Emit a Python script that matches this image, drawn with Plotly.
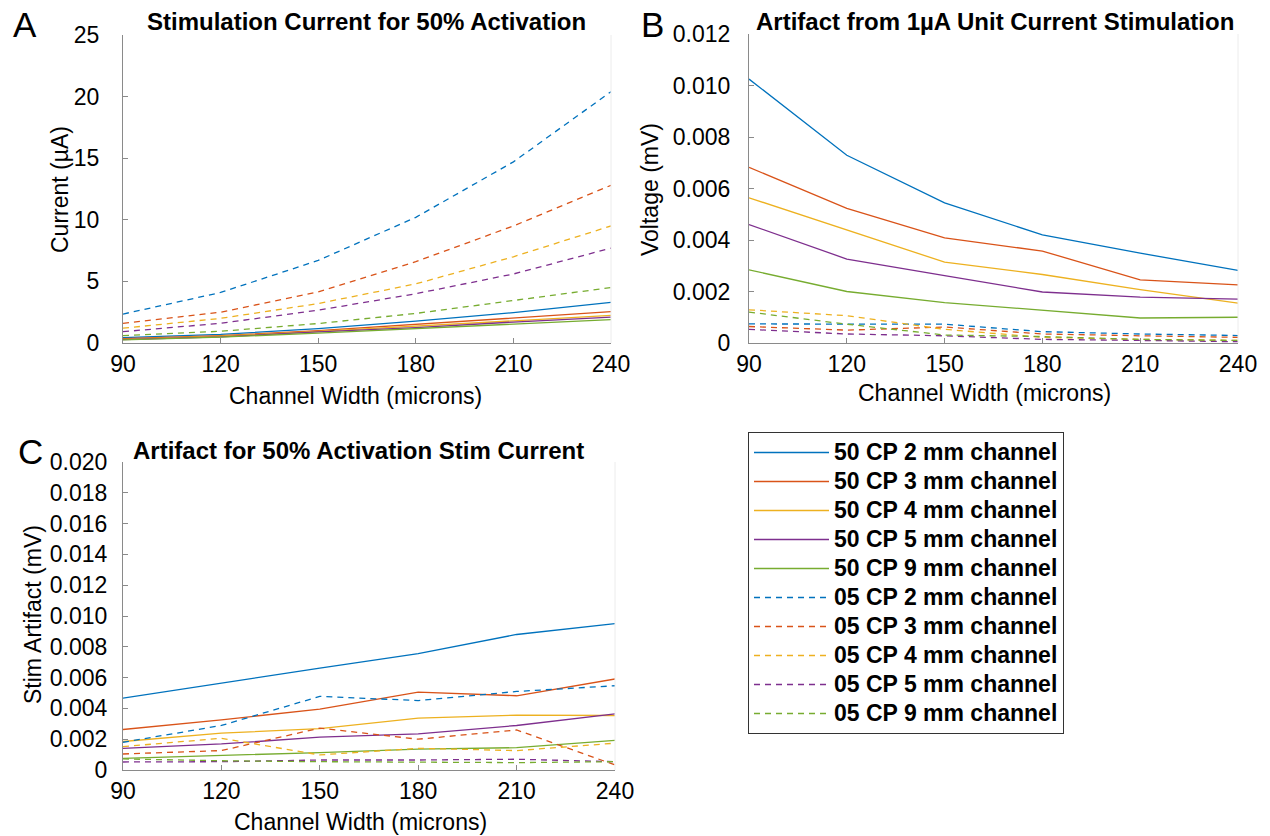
import plotly.graph_objects as go

W, H = 1270, 836
width_um = [90, 120, 150, 180, 210, 240]
names_50 = ["50 CP 2 mm channel", "50 CP 3 mm channel", "50 CP 4 mm channel", "50 CP 5 mm channel", "50 CP 9 mm channel"]
names_05 = ["05 CP 2 mm channel", "05 CP 3 mm channel", "05 CP 4 mm channel", "05 CP 5 mm channel", "05 CP 9 mm channel"]
colors = ["#0072BD", "#D95319", "#EDB120", "#7E2F8E", "#77AC30"]

# Panel A: stimulation current (uA)
a_50 = [
    [0.44, 0.70, 1.17, 1.77, 2.47, 3.3],
    [0.35, 0.60, 1.00, 1.50, 2.00, 2.54],
    [0.30, 0.55, 0.95, 1.35, 1.80, 2.25],
    [0.28, 0.50, 0.90, 1.25, 1.70, 2.10],
    [0.25, 0.48, 0.80, 1.15, 1.50, 1.90],
]
a_05 = [
    [2.35, 4.1, 6.7, 10.2, 14.7, 20.4],
    [1.6, 2.5, 4.15, 6.6, 9.5, 12.8],
    [1.2, 2.0, 3.2, 4.8, 7.0, 9.5],
    [0.92, 1.6, 2.66, 4.0, 5.6, 7.7],
    [0.6, 0.95, 1.58, 2.4, 3.45, 4.5],
]
# Panel B: artifact from 1 uA (mV)
b_50 = [
    [0.01025, 0.00729, 0.00544, 0.00420, 0.00349, 0.00282],
    [0.00682, 0.00523, 0.00408, 0.00357, 0.00245, 0.00226],
    [0.00564, 0.00440, 0.00314, 0.00266, 0.00207, 0.00155],
    [0.00460, 0.00326, 0.00262, 0.00198, 0.00178, 0.00170],
    [0.00284, 0.00200, 0.00157, 0.00126, 0.00097, 0.00100],
]
b_05 = [
    [0.00074, 0.00073, 0.00073, 0.00044, 0.00035, 0.00029],
    [0.00064, 0.00050, 0.00062, 0.00035, 0.00028, 0.00022],
    [0.00129, 0.00106, 0.00053, 0.00022, 0.00014, 0.00010],
    [0.00053, 0.00035, 0.00028, 0.00014, 0.00010, 0.00005],
    [0.00120, 0.00073, 0.00031, 0.00025, 0.00014, 0.00010],
]
# Panel C: stim artifact at 50% activation current (mV)
c_50 = [
    [0.00467, 0.00565, 0.00662, 0.00756, 0.00880, 0.00950],
    [0.00263, 0.00326, 0.00395, 0.00506, 0.00482, 0.00591],
    [0.00185, 0.00239, 0.00269, 0.00337, 0.00356, 0.00354],
    [0.00141, 0.00169, 0.00213, 0.00235, 0.00289, 0.00365],
    [0.00076, 0.00093, 0.00113, 0.00135, 0.00145, 0.00193],
]
c_05 = [
    [0.00180, 0.00289, 0.00478, 0.00451, 0.00510, 0.00547],
    [0.00104, 0.00126, 0.00272, 0.00200, 0.00260, 0.00033],
    [0.00152, 0.00206, 0.00098, 0.00141, 0.00126, 0.00174],
    [0.00052, 0.00054, 0.00065, 0.00065, 0.00070, 0.00054],
    [0.00072, 0.00060, 0.00054, 0.00050, 0.00048, 0.00054],
]

a_ticks = [0, 5, 10, 15, 20, 25]
b_ticks = [0, 0.002, 0.004, 0.006, 0.008, 0.010, 0.012]
b_ticktext = ["0", "0.002", "0.004", "0.006", "0.008", "0.010", "0.012"]
c_ticks = [0, 0.002, 0.004, 0.006, 0.008, 0.010, 0.012, 0.014, 0.016, 0.018, 0.020]
c_ticktext = ["0"] + ["%.3f" % v for v in c_ticks[1:]]
x_ticks = [90, 120, 150, 180, 210, 240]

FONT = "Liberation Sans, Arial, sans-serif"
fig = go.Figure()

def px_x(x0, x1):
    return [x0 / W, x1 / W]

def px_y(top, bottom):
    return [1 - bottom / H, 1 - top / H]

def leg(name):
    return "<span style='font-size:23px'>%s</span>" % name

panels = [
    ("x", "y", a_50, a_05, True),
    ("x2", "y2", b_50, b_05, False),
    ("x3", "y3", c_50, c_05, False),
]
for xa, ya, s50, s05, show in panels:
    for i in range(5):
        fig.add_trace(go.Scatter(x=width_um, y=s50[i], mode="lines", name=leg(names_50[i]),
                                 line=dict(color=colors[i], width=1.3), xaxis=xa, yaxis=ya,
                                 showlegend=show, legendrank=i))
for xa, ya, s50, s05, show in panels:
    for i in range(5):
        fig.add_trace(go.Scatter(x=width_um, y=s05[i], mode="lines", name=leg(names_05[i]),
                                 line=dict(color=colors[i], width=1.3, dash="6px,5px"), xaxis=xa, yaxis=ya,
                                 showlegend=show, legendrank=10 + i))

axcommon = dict(showgrid=False, zeroline=False, showline=True, linecolor="#8a8a8a", linewidth=1,
                ticks="inside", ticklen=5, tickcolor="#8a8a8a", automargin=False,
                tickfont=dict(family=FONT, size=23, color="black"))

dom = {
    "A": (px_x(123, 611), px_y(35, 343)),
    "B": (px_x(749, 1238), px_y(34, 343)),
    "C": (px_x(123, 615), px_y(462, 770)),
}
fig.update_layout(
    xaxis=dict(domain=dom["A"][0], anchor="y", range=[90, 240], tickvals=x_ticks, **axcommon),
    yaxis=dict(domain=dom["A"][1], anchor="x", range=[0, 25], tickvals=a_ticks, ticklabelstandoff=18, **axcommon),
    xaxis2=dict(domain=dom["B"][0], anchor="y2", range=[90, 240], tickvals=x_ticks, **axcommon),
    yaxis2=dict(domain=dom["B"][1], anchor="x2", range=[0, 0.012], tickvals=b_ticks, ticktext=b_ticktext,
                ticklabelstandoff=13, **axcommon),
    xaxis3=dict(domain=dom["C"][0], anchor="y3", range=[90, 240], tickvals=x_ticks, **axcommon),
    yaxis3=dict(domain=dom["C"][1], anchor="x3", range=[0, 0.020], tickvals=c_ticks, ticktext=c_ticktext,
                ticklabelstandoff=10, **axcommon),
)

# faint right edges of the plot boxes
for (xd, yd) in dom.values():
    fig.add_shape(type="line", xref="paper", yref="paper", x0=xd[1], x1=xd[1], y0=yd[0], y1=yd[1],
                  line=dict(color="#ececec", width=1))

def ann(text, x, y, size=23, bold=False, angle=0):
    fig.add_annotation(text=("<b>%s</b>" % text) if bold else text, x=x / W, y=1 - y / H,
                       xref="paper", yref="paper", showarrow=False, textangle=angle,
                       xanchor="center", yanchor="middle",
                       font=dict(family=FONT, size=size, color="black"))

ann("Stimulation Current for 50% Activation", 366, 22, size=24, bold=True)
ann("Artifact from 1µA Unit Current Stimulation", 995, 22, size=24, bold=True)
ann("Artifact for 50% Activation Stim Current", 359, 450, size=24, bold=True)
ann("A", 25, 24, size=35)
ann("B", 652, 25, size=35)
ann("C", 30, 451, size=35)
ann("Current (µA)", 60, 190, angle=-90)
ann("Voltage (mV)", 650, 190, angle=-90)
ann("Stim Artifact (mV)", 33, 615, angle=-90)
ann("Channel Width (microns)", 355, 396)
ann("Channel Width (microns)", 985, 393)
ann("Channel Width (microns)", 360, 822)

fig.update_layout(
    width=W, height=H, margin=dict(l=0, r=0, t=0, b=0, autoexpand=False),
    paper_bgcolor="white", plot_bgcolor="white",
    font=dict(family=FONT, size=23, color="black"),
    legend=dict(x=748 / W, y=1 - 432 / H, xanchor="left", yanchor="top",
                bordercolor="#333333", borderwidth=1, bgcolor="white",
                font=dict(family=FONT, size=20, color="black", weight="bold"),
                itemwidth=75, tracegroupgap=0),
    showlegend=True,
)
fig.write_html("out.html")
